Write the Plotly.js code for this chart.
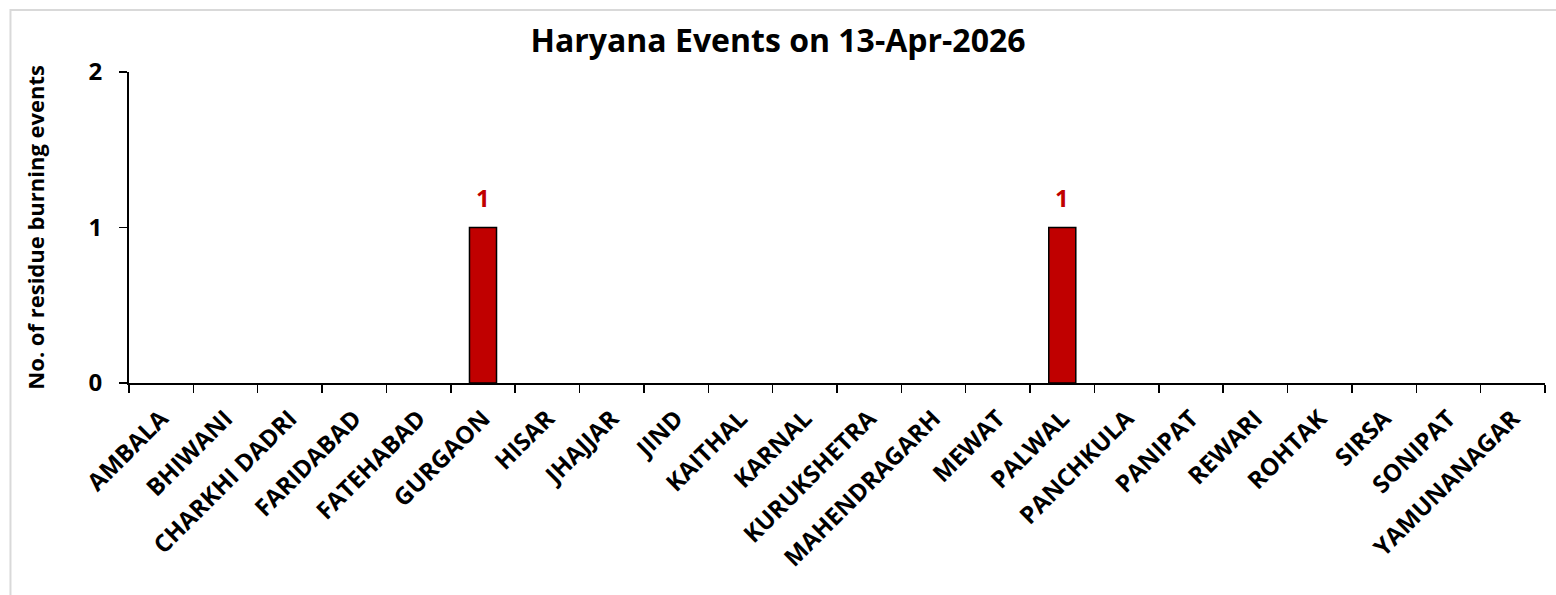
<!DOCTYPE html>
<html>
<head>
<meta charset="utf-8">
<script src="https://cdn.plot.ly/plotly-3.0.1.min.js"></script>
<style>
html,body{margin:0;padding:0;background:#fff;}
#chart{width:1556px;height:595px;}
</style>
</head>
<body>
<div id="chart"></div>
<script>
const districts = ["AMBALA","BHIWANI","CHARKHI DADRI","FARIDABAD","FATEHABAD","GURGAON","HISAR","JHAJJAR","JIND","KAITHAL","KARNAL","KURUKSHETRA","MAHENDRAGARH","MEWAT","PALWAL","PANCHKULA","PANIPAT","REWARI","ROHTAK","SIRSA","SONIPAT","YAMUNANAGAR"];
const events = [0,0,0,0,0,1,0,0,0,0,0,0,0,0,1,0,0,0,0,0,0,0];
const yTicks = [0,1,2];
const chartTitle = "Haryana Events on 13-Apr-2026";
const yTitle = "No. of residue burning events";

const FONT = "Open Sans, Noto Sans, sans-serif";
const barColor = "#C00000";

const trace = {
  type: "bar",
  x: districts,
  y: events,
  marker: {color: barColor, line: {color: "#000000", width: events.map(v => v > 0 ? 1.5 : 0)}},
  hoverinfo: "x+y"
};

const labelAnnotations = [];
districts.forEach((d, i) => {
  if (events[i] > 0) {
    labelAnnotations.push({
      x: d, y: events[i], xref: "x", yref: "y",
      text: String(events[i]), showarrow: false,
      yanchor: "bottom", yshift: 12,
      font: {family: FONT, size: 24, color: barColor, weight: "bold"}
    });
  }
});

labelAnnotations.push({
  xref: "paper", yref: "paper", x: -0.067, y: 0.5,
  text: yTitle, textangle: -90, showarrow: false,
  xanchor: "center", yanchor: "middle",
  font: {family: FONT, size: 22, color: "#000", weight: "bold"}
});

const layout = {
  width: 1556, height: 595,
  margin: {l: 129, r: 11, t: 72, b: 212},
  paper_bgcolor: "#fff", plot_bgcolor: "rgba(0,0,0,0)",
  showlegend: false,
  bargap: 0.58,
  title: {
    text: chartTitle, x: 0.5, xref: "container", xanchor: "center",
    y: 0.932, yref: "container", yanchor: "middle",
    font: {family: FONT, size: 32, color: "#000", weight: "bold"}
  },
  font: {family: FONT, color: "#000"},
  xaxis: {
    type: "category",
    tickangle: -45,
    tickfont: {family: FONT, size: 24, color: "#000", weight: "bold"},
    showline: true, linecolor: "#000", linewidth: 2,
    ticks: "outside", tickson: "boundaries", ticklen: 8, tickwidth: 1.5, tickcolor: "#000",
    ticklabelstandoff: 10,
    showgrid: false, zeroline: false, fixedrange: true
  },
  yaxis: {
    range: [0, 2],
    tickvals: yTicks,
    ticktext: yTicks.map(String),
    tickfont: {family: FONT, size: 24, color: "#000", weight: "bold"},
    showline: true, linecolor: "#000", linewidth: 2,
    ticks: "outside", ticklen: 8, tickwidth: 1.5, tickcolor: "#000",
    ticklabelstandoff: 12,
    showgrid: false, zeroline: false, fixedrange: true
  },
  annotations: labelAnnotations,
  shapes: [{
    type: "rect", xref: "paper", yref: "paper", layer: "below",
    x0: -0.0837, x1: 1.05, y0: -1.0, y1: 1.1994,
    line: {color: "#d9d9d9", width: 2}, fillcolor: "rgba(0,0,0,0)"
  }]
};

Plotly.newPlot("chart", [trace], layout, {displayModeBar: false, staticPlot: true});
</script>
</body>
</html>
